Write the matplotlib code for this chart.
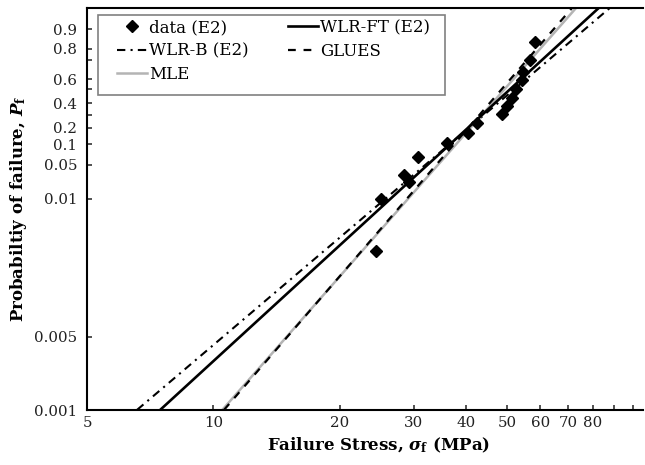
import numpy as np
import matplotlib
matplotlib.use("Agg")
import matplotlib.pyplot as plt
from matplotlib.patches import Rectangle
from matplotlib.ticker import FixedLocator, FixedFormatter, NullLocator

plt.rcParams['font.family'] = ['DejaVu Serif', 'DejaVu Sans']
plt.rcParams['mathtext.fontset'] = 'custom'
plt.rcParams['mathtext.rm'] = 'DejaVu Serif:bold'
plt.rcParams['mathtext.it'] = 'DejaVu Serif:bold:italic'
plt.rcParams['mathtext.bf'] = 'DejaVu Serif:bold'

# measured strengths (MPa) and Weibull ordinate ln(ln(1/(1-Pf)))
stress = [24.4, 25.1, 29.2, 28.4, 30.7, 36.0, 40.4, 42.5,
          48.7, 50.0, 51.4, 52.6, 54.3, 54.6, 56.8, 58.3]
lnln = [-3.135, -2.069, -1.721, -1.577, -1.209, -0.922, -0.717, -0.512,
        -0.327, -0.163, 0.0, 0.185, 0.369, 0.533, 0.779, 1.148]

# fitted lines, end points (stress, lnln)
fit_y = [-6.39, 1.85]
wlr_ft = [7.47, 82.8]
wlr_b = [6.58, 88.0]
glues = [10.6, 71.5]
mle = [10.5, 73.1]

xticks = [5, 10, 20, 30, 40, 50, 60, 70, 80, 90, 100]
xlabels = ['5', '10', '20', '30', '40', '50', '60', '70', '80', '', '']
yticks = [1.414, 1.005, 0.779, 0.390, 0.185, -0.102, -0.348, -0.604,
          -0.942, -1.372, -2.069, -4.897, -6.393]
ylabels = ['0.9', '0.8', '', '0.6', '', '0.4', '', '0.2',
           '0.1', '0.05', '0.01', '0.005', '0.001']

fig = plt.figure(figsize=(6.45, 4.65), dpi=100)
ax = fig.add_axes([87/645, 1-410/465, 556/645, 402/465])

ax.plot(stress, lnln, 'D', color='k', ms=6, label='data (E2)', zorder=5)
ax.plot(wlr_b, fit_y, color='k', lw=1.5, dashes=[4, 2.5, 1, 2.5], label='WLR-B (E2)')
ax.plot(mle, fit_y, color='#b4b4b4', lw=1.8, label='MLE')
ax.plot(wlr_ft, fit_y, color='k', lw=1.9, label='WLR-FT (E2)')
ax.plot(glues, fit_y, color='k', lw=1.6, dashes=[3.5, 3.5], label='GLUES')

ax.set_xscale('log')
ax.set_xlim(5, 105.4)
ax.set_ylim(-6.393, 1.845)
ax.xaxis.set_major_locator(FixedLocator(xticks))
ax.xaxis.set_major_formatter(FixedFormatter(xlabels))
ax.xaxis.set_minor_locator(NullLocator())
ax.yaxis.set_major_locator(FixedLocator(yticks))
ax.yaxis.set_major_formatter(FixedFormatter(ylabels))
ax.tick_params(direction='in', length=3.5, width=1.1, labelsize=10.8, colors='#222222')
ax.tick_params(axis='x', pad=4)
ax.tick_params(axis='y', pad=7)

for s in ['left', 'bottom', 'top']:
    ax.spines[s].set_linewidth(1.5)
ax.spines['right'].set_visible(False)

ax.set_xlabel(r'Failure Stress, $\sigma_\mathrm{f}$ (MPa)', fontsize=12, fontweight='bold')
ax.xaxis.set_label_coords(0.525, -0.064)
ax.set_ylabel(r'Probabiltiy of failure, $P_\mathrm{f}$', fontsize=12, fontweight='bold')
ax.yaxis.set_label_coords(-0.104, 0.5)

# legend box drawn separately so the padding matches the original
ax.add_patch(Rectangle((11/556, 1-87/402), 347/556, 80/402, transform=ax.transAxes,
                       fill=True, facecolor='white', edgecolor='#808080', lw=1.2, zorder=6))
leg = ax.legend(ncol=2, loc='upper left', bbox_to_anchor=(30/556, 1-11/402),
                borderaxespad=0, fontsize=12, handlelength=1.8, handletextpad=0.1,
                columnspacing=2.4, labelspacing=0.39, borderpad=0, frameon=False)
leg.set_zorder(7)

fig.savefig('out.png', dpi=100)
